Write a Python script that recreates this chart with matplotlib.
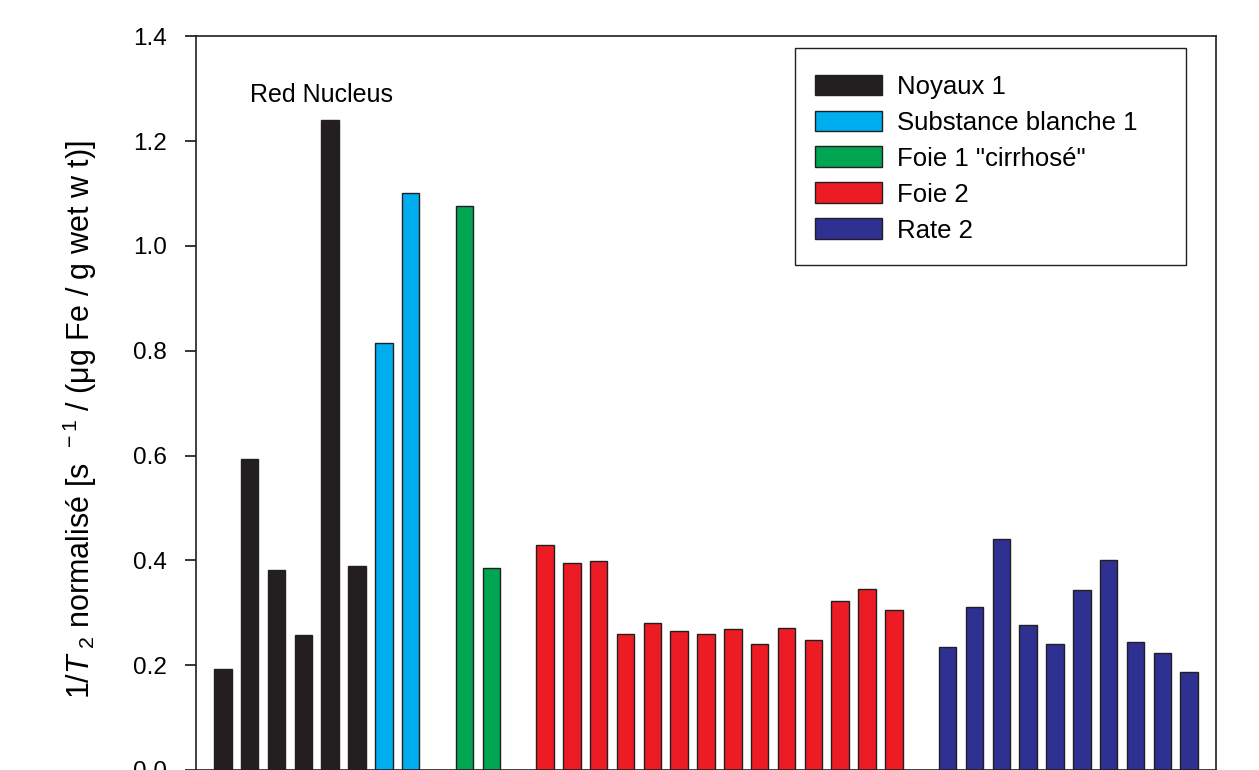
import numpy as np
import matplotlib
matplotlib.use("Agg")
import matplotlib.pyplot as plt
from matplotlib.patches import Rectangle

# Valeurs de 1/T2 normalisé par échantillon
noyaux1 = [0.192, 0.593, 0.381, 0.257, 1.240, 0.389]
substance_blanche1 = [0.815, 1.102]
foie1 = [1.076, 0.385]
foie2 = [0.429, 0.395, 0.398, 0.259, 0.281, 0.265, 0.260, 0.270,
         0.241, 0.271, 0.248, 0.323, 0.346, 0.306]
rate2 = [0.234, 0.311, 0.440, 0.276, 0.240, 0.344, 0.401, 0.245, 0.224, 0.187]

series = [
    ("Noyaux 1", noyaux1, "#231f20"),
    ("Substance blanche 1", substance_blanche1, "#00aeef"),
    ('Foie 1 "cirrhosé"', foie1, "#00a651"),
    ("Foie 2", foie2, "#ed1c24"),
    ("Rate 2", rate2, "#2e3192"),
]

plt.rcParams["font.family"] = "Liberation Sans"
plt.rcParams["mathtext.fontset"] = "custom"
plt.rcParams["mathtext.rm"] = "Liberation Sans"
plt.rcParams["mathtext.it"] = "Liberation Sans:italic"

fig = plt.figure(figsize=(12.59, 7.70), dpi=100)
ax = fig.add_axes([196 / 1259, 0.0, 1020 / 1259, 733.6 / 770])

# une case vide entre groupes, sauf entre Noyaux 1 et Substance blanche 1
start = 0
for i, (name, vals, col) in enumerate(series):
    x = np.arange(start, start + len(vals))
    ax.bar(x, vals, width=0.65, color=col, edgecolor="#231f20",
           linewidth=1.0, label=name)
    start += len(vals) + (0 if i == 0 else 1)

ax.text(3.67, 1.274, "Red Nucleus", ha="center", va="baseline", fontsize=18)

ax.set_xlim(-1, 37)
ax.set_ylim(0, 1.4)
ax.set_yticks(np.arange(0, 1.41, 0.2))
ax.set_yticklabels([f"{v:.1f}" for v in np.arange(0, 1.41, 0.2)])
ax.set_xticks([])
ax.tick_params(axis="y", length=8, width=1.1, pad=13, labelsize=17.5)
for s in ax.spines.values():
    s.set_linewidth(1.2)
    s.set_color("#231f20")

ax.set_ylabel(r"$\mathit{1/T}$$_{\ 2}$ normalisé [s$^{\ \ -1}$ / (μg Fe / g wet w t)]",
              fontsize=22)
ax.yaxis.set_label_coords(-0.0951, 0.477)

# légende sans cadre, cadre dessiné à part
leg = ax.legend(loc="upper left", bbox_to_anchor=(0.6069, 0.948),
                borderaxespad=0, borderpad=0, fontsize=18.5,
                handlelength=2.6, handleheight=0.85, labelspacing=0.46,
                handletextpad=0.6, frameon=False)
ax.add_patch(Rectangle(((795 - 196) / 1020, (769.8 - 265) / 733.6),
                       391 / 1020, 217 / 733.6, transform=ax.transAxes,
                       fill=False, edgecolor="#231f20", linewidth=1.0,
                       zorder=5))

fig.savefig("out.png", dpi=100)
